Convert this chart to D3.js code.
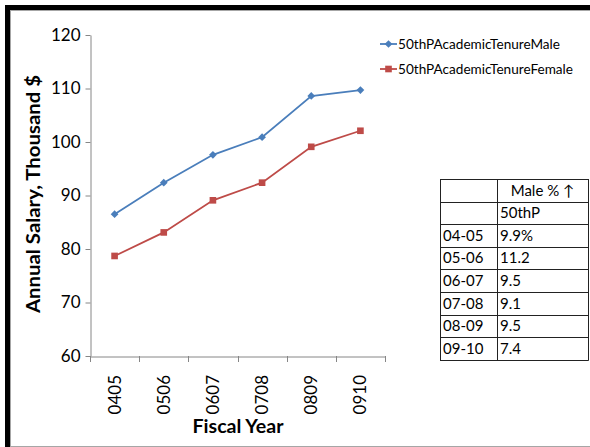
<!DOCTYPE html>
<html>
<head>
<meta charset="utf-8">
<script src="https://cdn.jsdelivr.net/npm/d3@7"></script>
<style>
html,body{margin:0;padding:0;background:#fff;}
svg{display:block;font-family:Lato,"Open Sans",sans-serif;}
</style>
</head>
<body>
<svg id="chart" width="590" height="447"></svg>
<script>
const years = ["0405","0506","0607","0708","0809","0910"];
const maleValues = [86.5, 92.4, 97.6, 100.9, 108.6, 109.7];
const femaleValues = [78.7, 83.1, 89.1, 92.4, 99.1, 102.1];
const yTicks = [60,70,80,90,100,110,120];
const seriesNames = ["50thPAcademicTenureMale","50thPAcademicTenureFemale"];
const tableHeader = ["", "Male % \u2191"];
const tableSub = ["", "50thP"];
const tableRows = ["04-05","05-06","06-07","07-08","08-09","09-10"];
const tableVals = ["9.9%","11.2","9.5","9.1","9.5","7.4"];

const svg = d3.select("#chart");
const W = 590, H = 447;

// frame
svg.append("rect").attr("x",5).attr("y",5).attr("width",W-5).attr("height",5).attr("fill","#000");
svg.append("rect").attr("x",5).attr("y",5).attr("width",5).attr("height",H-5).attr("fill","#000");
svg.append("line").attr("x1",10).attr("x2",W).attr("y1",10.5).attr("y2",10.5).attr("stroke","#a6a6a6");
svg.append("line").attr("x1",10.5).attr("x2",10.5).attr("y1",10).attr("y2",H).attr("stroke","#a6a6a6");
svg.append("line").attr("x1",10).attr("x2",W).attr("y1",446.5).attr("y2",446.5).attr("stroke","#a6a6a6");

const x = d3.scaleBand().domain(years).range([90,385]);
const y = d3.scaleLinear().domain([60,120]).range([356,35]);

const axisColor = "#868686";
// y axis
const yAxis = svg.append("g").attr("transform","translate(90.5,0)")
  .call(d3.axisLeft(y).tickValues(yTicks).tickSize(5).tickPadding(5).tickSizeOuter(0));
yAxis.select(".domain").attr("stroke",axisColor);
yAxis.selectAll(".tick line").attr("stroke",axisColor);
yAxis.selectAll(".tick text").attr("font-size",17).attr("fill","#000").attr("font-family","Lato");

// x axis
const xAxis = svg.append("g").attr("transform","translate(0,356.5)")
  .call(d3.axisBottom(x).tickSize(0).tickFormat("").tickSizeOuter(0));
xAxis.select(".domain").attr("stroke",axisColor);
xAxis.selectAll(".tick").remove();
const edges = years.map(d => x(d)).concat([x.range()[1]]);
svg.append("g").selectAll("line").data(edges).join("line")
  .attr("x1",d=>Math.round(d)+0.5).attr("x2",d=>Math.round(d)+0.5)
  .attr("y1",356).attr("y2",362).attr("stroke",axisColor);
svg.append("g").selectAll("text").data(years).join("text")
  .attr("transform",d=>`translate(${x(d)+x.bandwidth()/2+6},375) rotate(-90)`)
  .attr("text-anchor","end").attr("font-size",17).attr("font-family","Lato")
  .text(d=>d);

// axis titles
svg.append("text").attr("transform","translate(40,194) rotate(-90)")
  .attr("text-anchor","middle").attr("font-weight","bold").attr("font-size",19)
  .attr("textLength",238).attr("lengthAdjust","spacingAndGlyphs")
  .text("Annual Salary, Thousand $");
svg.append("text").attr("x",238).attr("y",433)
  .attr("text-anchor","middle").attr("font-weight","bold").attr("font-size",19)
  .attr("textLength",91).attr("lengthAdjust","spacingAndGlyphs")
  .text("Fiscal Year");

// series
const colors = ["#4A7EBB","#BE4B48"];
const series = [maleValues, femaleValues];
const line = d3.line().x((d,i)=>x(years[i])+x.bandwidth()/2).y(d=>y(d));
const markerPath = si => d3.symbol(d3.symbolSquare, si===0 ? 30 : 44)();
const markerRot = si => si===0 ? " rotate(45)" : "";
series.forEach((vals,si)=>{
  svg.append("path").datum(vals).attr("d",line).attr("fill","none")
    .attr("stroke",colors[si]).attr("stroke-width",1.8);
  svg.append("g").selectAll("path").data(vals).join("path")
    .attr("transform",(d,i)=>`translate(${x(years[i])+x.bandwidth()/2},${y(d)})${markerRot(si)}`)
    .attr("d",markerPath(si))
    .attr("fill",colors[si]);
});

// legend
seriesNames.forEach((name,i)=>{
  const ly = 44 + i*25;
  svg.append("line").attr("x1",380).attr("x2",397).attr("y1",ly).attr("y2",ly)
    .attr("stroke",colors[i]).attr("stroke-width",1.8);
  svg.append("path").attr("transform",`translate(388.5,${ly})${markerRot(i)}`)
    .attr("d",markerPath(i))
    .attr("fill",colors[i]);
  svg.append("text").attr("x",398).attr("y",ly).attr("dy","0.35em")
    .attr("font-size",13).attr("font-family","Lato")
    .attr("textLength", i===0?162:175).attr("lengthAdjust","spacingAndGlyphs")
    .text(name);
});

// table
const tx0 = 440, tx1 = 497, tx2 = 588, ty0 = 179, rowH = 22.6;
const allRows = [tableHeader, tableSub].concat(tableRows.map((r,i)=>[r, tableVals[i]]));
const tg = svg.append("g");
allRows.forEach((r,i)=>{
  const yy = ty0 + i*rowH;
  tg.append("text").attr("x",tx0+3).attr("y",yy+rowH/2).attr("dy","0.35em")
    .attr("font-size",15).attr("font-family","Lato").text(r[0]);
  tg.append("text")
    .attr("x", i===0 ? (tx1+tx2)/2 : tx1+3)
    .attr("text-anchor", i===0 ? "middle" : "start")
    .attr("y",yy+rowH/2).attr("dy","0.35em")
    .attr("font-size",15).attr("font-family","Lato").text(r[1]);
});
for (let i=0;i<=allRows.length;i++){
  const yy = Math.round(ty0 + i*rowH)+0.5;
  tg.append("line").attr("x1",tx0).attr("x2",tx2).attr("y1",yy).attr("y2",yy).attr("stroke","#222");
}
[tx0,tx1,tx2].forEach(xx=>{
  tg.append("line").attr("x1",xx+0.5).attr("x2",xx+0.5).attr("y1",ty0).attr("y2",ty0+rowH*allRows.length+1).attr("stroke","#222");
});
</script>
</body>
</html>
